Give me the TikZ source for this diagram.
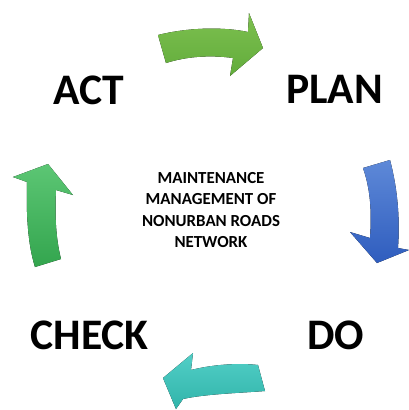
\documentclass[tikz,border=0pt]{standalone}
\usepackage{fontspec}
\setmainfont{Carlito}
\usetikzlibrary{calc}
\definecolor{actgreen}{HTML}{7DC04F}
\definecolor{actgreendk}{HTML}{62AC3C}
\definecolor{planblue}{HTML}{5E89D8}
\definecolor{planbluedk}{HTML}{2F5DBE}
\definecolor{doteal}{HTML}{52CFC7}
\definecolor{dotealdk}{HTML}{31B4AA}
\definecolor{checkgreen}{HTML}{5CC674}
\definecolor{checkgreendk}{HTML}{33A54E}
\tikzset{
  cyclearrow/.style={draw=none, shading=axis, shading angle=0},
  steplabel/.style={font=\bfseries\fontsize{31}{31}\selectfont, inner sep=0pt, anchor=base},
  centrelabel/.style={font=\bfseries\fontsize{12}{15.3}\selectfont, align=center, inner sep=0pt}
}

\begin{document}
\begin{tikzpicture}[x=0.025cm, y=-0.025cm]
			%%%%% START %%%%%
			
			\useasboundingbox (0, 0) rectangle (409, 410);
			
			% act -> plan
			\fill[cyclearrow, top color=actgreen, bottom color=actgreendk] (158, 35) .. controls (190, 27) and (225, 27) .. (248, 32) -- (249, 13) -- (263, 48) -- (230, 76) -- (233, 58) .. controls (212, 55) and (188, 56) .. (166, 63) -- cycle;
			
			% plan -> do
			\fill[cyclearrow, top color=planblue, bottom color=planbluedk] (363, 168) -- (390, 160) .. controls (398, 190) and (400, 220) .. (398, 248) -- (409, 250) -- (377, 263) -- (350, 232) -- (370, 238) .. controls (372, 210) and (370, 188) .. (363, 168) -- cycle;
			
			% do -> check
			\fill[cyclearrow, top color=doteal, bottom color=dotealdk] (258, 365) -- (265, 391) .. controls (240, 393) and (205, 394) .. (183, 399) -- (176, 409) -- (163, 378) -- (193, 353) -- (191, 370) .. controls (215, 364) and (240, 363) .. (258, 365) -- cycle;
			
			% check -> act
			\fill[cyclearrow, top color=checkgreen, bottom color=checkgreendk] (35, 267) -- (61, 259) .. controls (55, 235) and (55, 210) .. (56, 190) -- (73, 195) -- (48, 164) -- (13, 177) -- (27, 182) .. controls (26, 215) and (28, 245) .. (35, 267) -- cycle;
			
			\node[steplabel] (act) at (89, 104) {ACT};
			\node[steplabel] (plan) at (334.5, 103) {PLAN};
			\node[steplabel] (check) at (89.5, 349) {CHECK};
			\node[steplabel] (do) at (335.5, 349) {DO};
			
			\node[centrelabel] (goal) at (211, 210) {MAINTENANCE\\MANAGEMENT OF\\NONURBAN ROADS\\NETWORK};
			
			%%%%% END %%%%%
		\end{tikzpicture}
\end{document}
